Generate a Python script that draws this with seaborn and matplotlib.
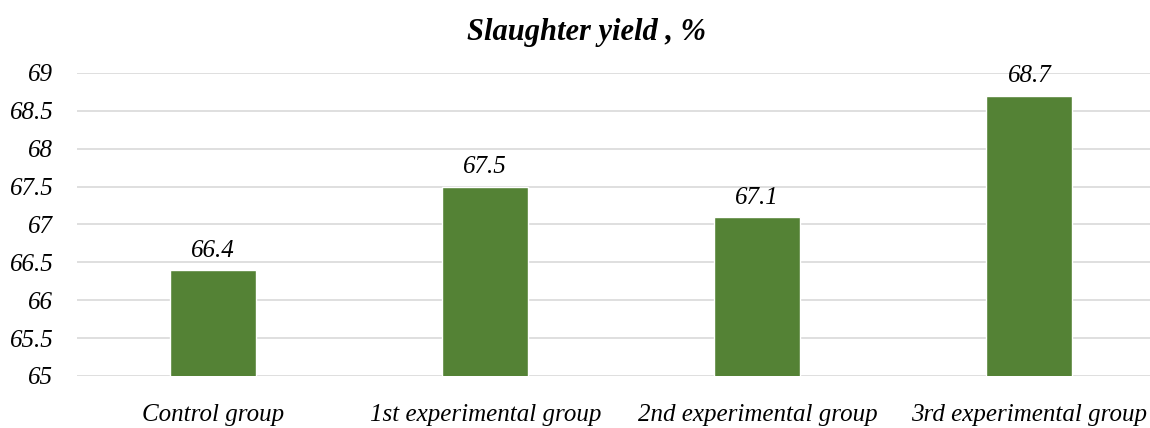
import matplotlib
matplotlib.use("Agg")
import matplotlib.pyplot as plt
import seaborn as sns
import pandas as pd

groups = ["Control group", "1st experimental group", "2nd experimental group", "3rd experimental group"]
yields = [66.4, 67.5, 67.1, 68.7]

df = pd.DataFrame({"group": groups, "value": yields})

sns.set_theme(style="whitegrid")
plt.rcParams["font.family"] = ["Liberation Serif", "DejaVu Serif"]
plt.rcParams["font.style"] = "italic"

fig = plt.figure(figsize=(11.5, 4.28), dpi=100)
# the plot area runs a little past the right edge, as in the original
ax = fig.add_axes([0.067, 0.1215, 0.9465, 0.708])

sns.barplot(data=df, x="group", y="value", color="#548235", width=0.316,
            saturation=1, ax=ax, zorder=2)

ax.set_ylim(65, 69)
ax.set_yticks([65, 65.5, 66, 66.5, 67, 67.5, 68, 68.5, 69])
ax.set_yticklabels(["65", "65.5", "66", "66.5", "67", "67.5", "68", "68.5", "69"])
ax.grid(axis="y", color="#d9d9d9", linewidth=1.2, zorder=0)
ax.grid(axis="x", visible=False)
for s in ax.spines.values():
    s.set_visible(False)
ax.tick_params(axis="both", length=0, labelsize=18, colors="black")
ax.tick_params(axis="x", pad=20)
ax.tick_params(axis="y", pad=17)
for lbl in ax.get_xticklabels() + ax.get_yticklabels():
    lbl.set_fontstyle("italic")
ax.set_xlabel("")
ax.set_ylabel("")

for p, v in zip(ax.patches, yields):
    ax.annotate(f"{v}", (p.get_x() + p.get_width() / 2, v),
                ha="center", va="bottom", fontsize=18, fontstyle="italic",
                color="black", xytext=(0, 6), textcoords="offset points")

fig.text(0.51, 0.925, "Slaughter yield , %", ha="center", va="center",
         fontsize=22, fontweight="bold", fontstyle="italic", color="black")

fig.savefig("out.png", dpi=100)
